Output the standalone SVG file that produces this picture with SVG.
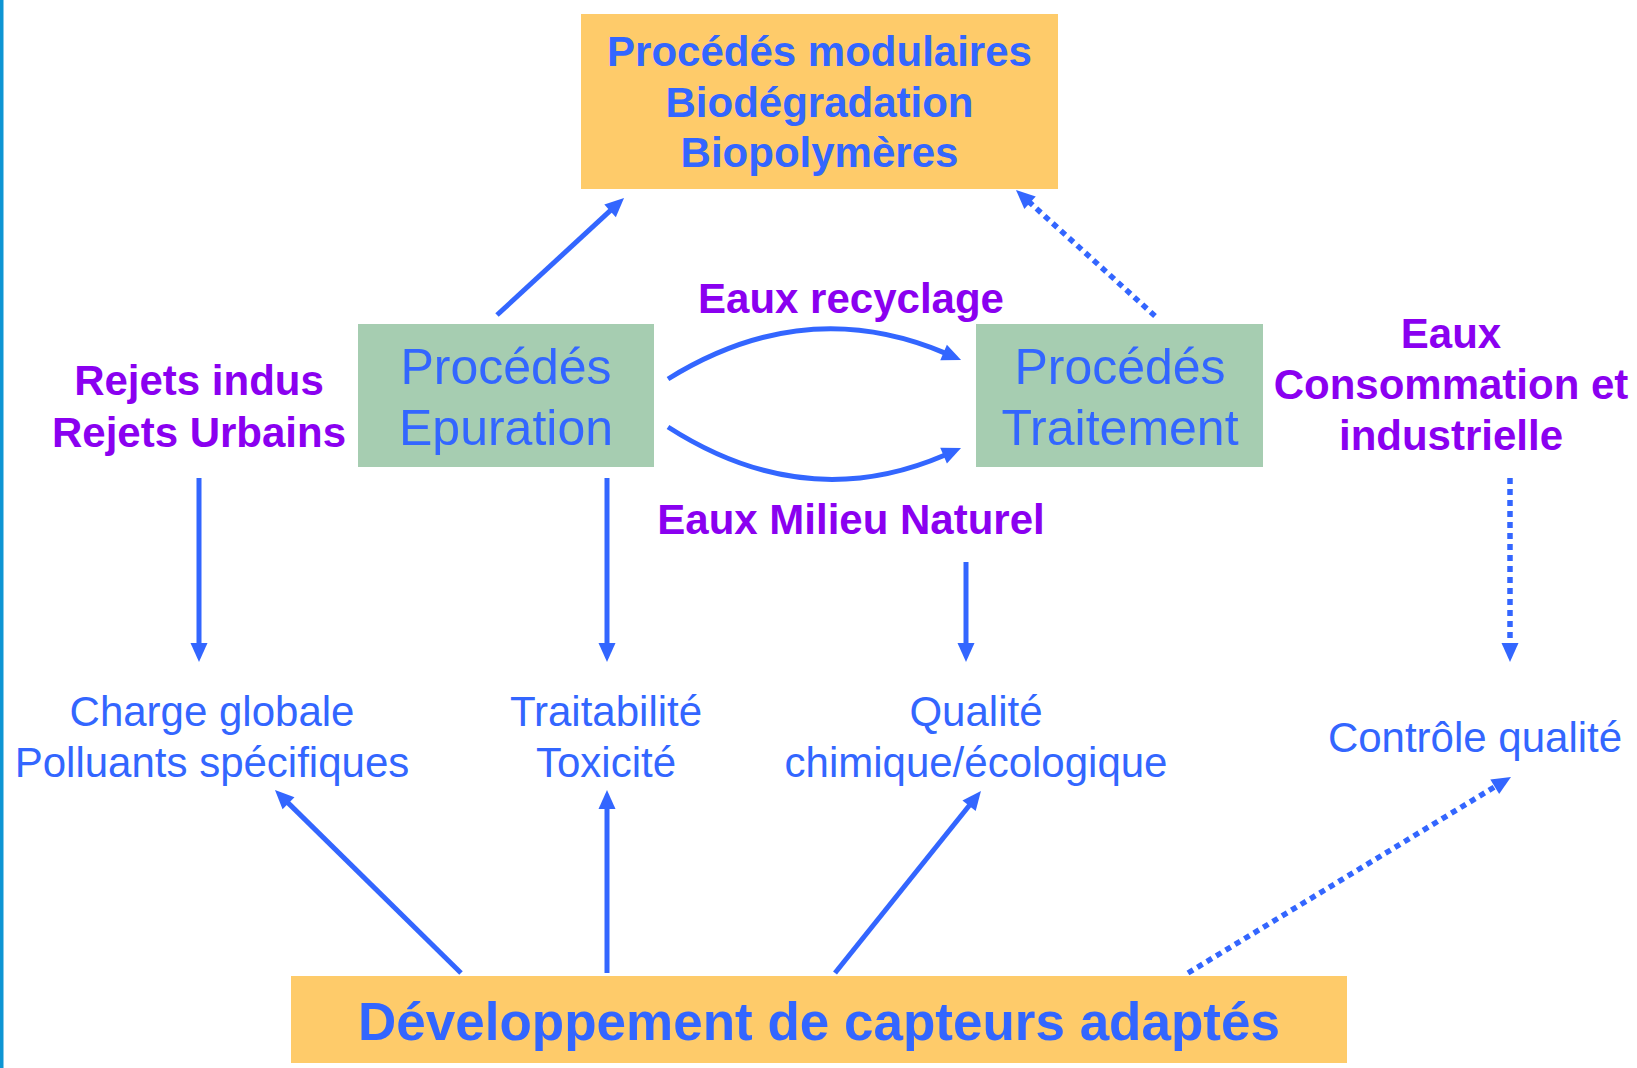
<svg xmlns="http://www.w3.org/2000/svg" width="1637" height="1068" viewBox="0 0 1637 1068">
<style>
text{font-family:"Liberation Sans",Arial,sans-serif;text-anchor:middle}
.bb{font-weight:bold;font-size:42px;fill:#3366FF}
.pb{font-weight:bold;font-size:42px;fill:#8A00F0}
.br{font-size:42px;fill:#3366FF}
.big{font-size:50px;fill:#3366FF}
.orange{fill:#FECB6A}
.green{fill:#A6CDB1}
.ln{fill:none;stroke:#3366FF;stroke-width:5}
.dot{stroke-dasharray:6 5;stroke-width:5.5}
</style>
<defs>
<marker id="ah" markerUnits="userSpaceOnUse" markerWidth="19" markerHeight="17" refX="1" refY="8.5" orient="auto" overflow="visible">
<path d="M0,0 L19,8.5 L0,17 z" fill="#3366FF"/>
</marker>
</defs>
<rect x="0" y="0" width="1637" height="1068" fill="#FFFFFF"/>
<rect x="0" y="0" width="3.5" height="1068" fill="#0E95D3"/>

<g id="top-box">
<rect class="orange" x="581" y="14" width="477" height="175"/>
<text class="bb" x="819.5" y="66">Procédés modulaires</text>
<text class="bb" x="819.5" y="117">Biodégradation</text>
<text class="bb" x="819.5" y="167">Biopolymères</text>
</g>

<g id="epuration">
<rect class="green" x="358" y="324" width="296" height="143"/>
<text class="big" x="506" y="384">Procédés</text>
<text class="big" x="506" y="445">Epuration</text>
</g>

<g id="traitement">
<rect class="green" x="976" y="324" width="287" height="143"/>
<text class="big" x="1120" y="384">Procédés</text>
<text class="big" x="1120" y="445">Traitement</text>
</g>

<g id="rejets">
<text class="pb" x="199" y="395">Rejets indus</text>
<text class="pb" x="199" y="447">Rejets Urbains</text>
</g>

<g id="eaux-recyclage">
<text class="pb" x="851" y="313">Eaux recyclage</text>
</g>

<g id="eaux-milieu">
<text class="pb" x="851" y="534">Eaux Milieu Naturel</text>
</g>

<g id="eaux-consommation">
<text class="pb" x="1451" y="348">Eaux</text>
<text class="pb" x="1451" y="399">Consommation et</text>
<text class="pb" x="1451" y="450">industrielle</text>
</g>

<g id="charge">
<text class="br" x="212" y="726">Charge globale</text>
<text class="br" x="212" y="777">Polluants spécifiques</text>
</g>

<g id="traitabilite">
<text class="br" x="606" y="726">Traitabilité</text>
<text class="br" x="606" y="777">Toxicité</text>
</g>

<g id="qualite">
<text class="br" x="976" y="726">Qualité</text>
<text class="br" x="976" y="777">chimique/écologique</text>
</g>

<g id="controle">
<text class="br" x="1475" y="752">Contrôle qualité</text>
</g>

<g id="capteurs">
<rect class="orange" x="291" y="976" width="1056" height="87"/>
<text x="819" y="1040" style="font-weight:bold;font-size:53px;fill:#3366FF">Développement de capteurs adaptés</text>
</g>

<g id="connectors">
<path class="ln" d="M497,315 L610.8,210.2" marker-end="url(#ah)"/>
<path class="ln dot" d="M1155,316 L1029.3,202.1" marker-end="url(#ah)"/>
<path class="ln" d="M668,379 Q805,294 944.5,352.9" marker-end="url(#ah)"/>
<path class="ln" d="M668,427 Q805,515 944.5,455.2" marker-end="url(#ah)"/>
<path class="ln" d="M199,478 L199,644" marker-end="url(#ah)"/>
<path class="ln" d="M607,478 L607,644" marker-end="url(#ah)"/>
<path class="ln" d="M966,562 L966,644" marker-end="url(#ah)"/>
<path class="ln dot" d="M1510,478 L1510,644" marker-end="url(#ah)"/>
<path class="ln" d="M461,973 L287.8,802.6" marker-end="url(#ah)"/>
<path class="ln" d="M607,973 L607,808" marker-end="url(#ah)"/>
<path class="ln" d="M835,973 L969.7,805" marker-end="url(#ah)"/>
<path class="ln dot" d="M1188,973 L1495.6,786.3" marker-end="url(#ah)"/>
</g>
</svg>
